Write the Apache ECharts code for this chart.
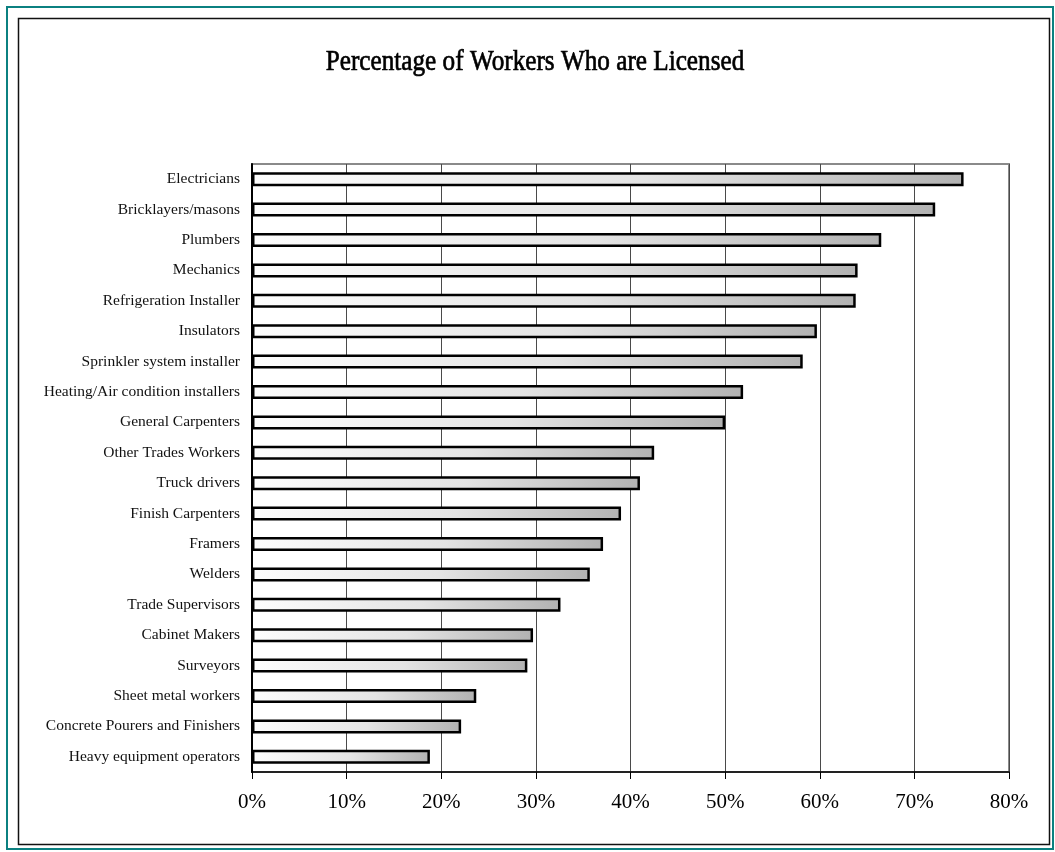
<!DOCTYPE html>
<html>
<head>
<meta charset="utf-8">
<script src="https://cdn.jsdelivr.net/npm/echarts@6/dist/echarts.min.js"></script>
<style>
html,body{margin:0;padding:0;background:#fff;}
#chart{width:1055px;height:852px;}
</style>
</head>
<body>
<div id="chart"></div>
<script>
const titleText = 'Percentage of Workers Who are Licensed';
const categories = [
  'Electricians',
  'Bricklayers/masons',
  'Plumbers',
  'Mechanics',
  'Refrigeration Installer',
  'Insulators',
  'Sprinkler system installer',
  'Heating/Air condition installers',
  'General Carpenters',
  'Other Trades Workers',
  'Truck drivers',
  'Finish Carpenters',
  'Framers',
  'Welders',
  'Trade Supervisors',
  'Cabinet Makers',
  'Surveyors',
  'Sheet metal workers',
  'Concrete Pourers and Finishers',
  'Heavy equipment operators'
];
const licensedPct = [75.2, 72.2, 66.5, 64.0, 63.8, 59.7, 58.2, 51.9, 50.0, 42.5,
                     41.0, 39.0, 37.1, 35.7, 32.6, 29.7, 29.1, 23.7, 22.1, 18.8];
const axisMin = 0, axisMax = 80, axisStep = 10;

const chart = echarts.init(document.getElementById('chart'), null, {renderer: 'canvas'});
const serif = "'Liberation Serif', 'Times New Roman', serif";

chart.setOption({
  animation: false,
  backgroundColor: '#fff',
  grid: {
    left: 252, top: 164, right: 46, bottom: 80,
    show: true, borderColor: '#8a8a8a', borderWidth: 2, backgroundColor: 'transparent'
  },
  xAxis: {
    type: 'value', min: axisMin, max: axisMax, interval: axisStep,
    axisLine: {show: true, lineStyle: {color: '#000', width: 1.5}},
    axisTick: {show: true, inside: false, length: 7, lineStyle: {color: '#000', width: 1}},
    axisLabel: {formatter: '{value}%', fontFamily: serif, fontSize: 21, color: '#000', margin: 20},
    splitLine: {show: true, lineStyle: {color: '#4a4a4a', width: 1}}
  },
  yAxis: {
    type: 'category', inverse: true, data: categories,
    axisLine: {show: true, lineStyle: {color: '#000', width: 2}},
    axisTick: {show: false},
    axisLabel: {fontFamily: serif, fontSize: 15.5, color: '#111', margin: 12},
    splitLine: {show: false}
  },
  series: [{
    type: 'bar',
    data: licensedPct,
    barWidth: 14,
    itemStyle: {
      color: new echarts.graphic.LinearGradient(0, 0, 1, 0, [
        {offset: 0, color: '#fdfdfd'},
        {offset: 0.55, color: '#e4e4e4'},
        {offset: 1, color: '#b2b2b2'}
      ]),
      borderColor: '#000',
      borderWidth: 2.5
    }
  }],
  graphic: [
    {type: 'rect', silent: true, z: 0,
     shape: {x: 7, y: 7, width: 1046, height: 842},
     style: {fill: 'none', stroke: '#0b8080', lineWidth: 2}},
    {type: 'rect', silent: true, z: 0,
     shape: {x: 18.5, y: 18.5, width: 1031, height: 826},
     style: {fill: 'none', stroke: '#111', lineWidth: 1.5}},
    {type: 'text', silent: true, z: 10,
     x: 535, y: 62, scaleX: 0.84, scaleY: 1,
     style: {text: titleText, font: "30px 'Liberation Serif', serif", fill: '#000',
             stroke: '#000', lineWidth: 0.7,
             textAlign: 'center', textVerticalAlign: 'middle'}}
  ]
});
</script>
</body>
</html>
